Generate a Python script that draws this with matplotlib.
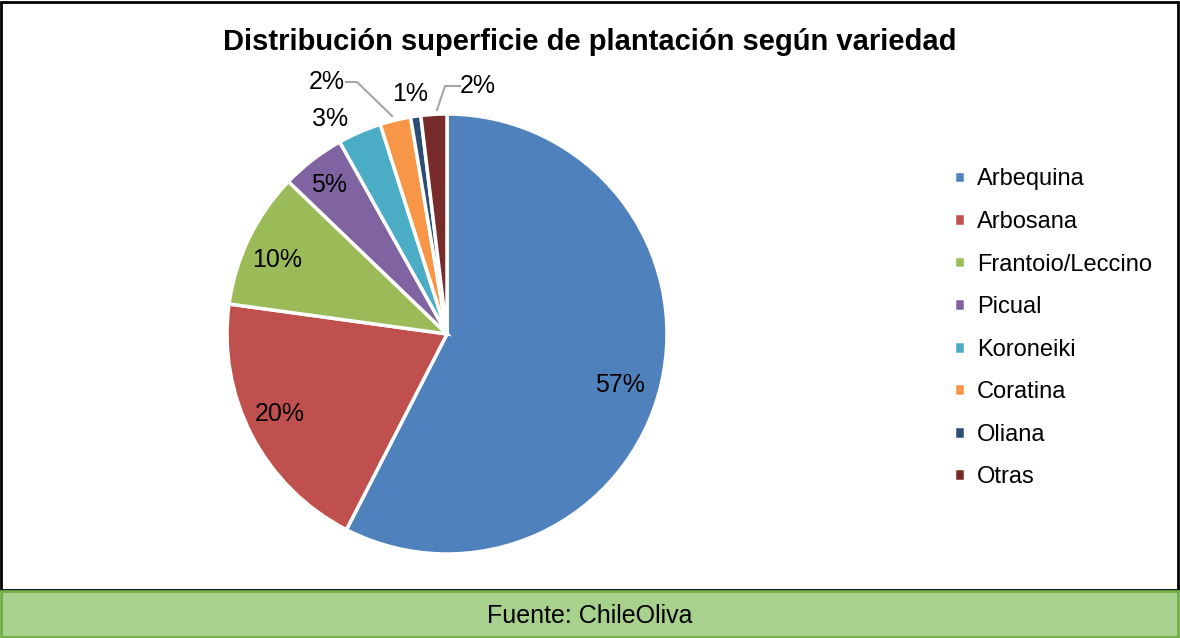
import matplotlib.pyplot as plt
from matplotlib.patches import Rectangle

plt.rcParams['font.family'] = ['Liberation Sans', 'DejaVu Sans']

varieties = ["Arbequina", "Arbosana", "Frantoio/Leccino", "Picual",
             "Koroneiki", "Coratina", "Oliana", "Otras"]
shares = [57.5, 19.6, 10.0, 4.7, 3.2, 2.25, 0.75, 1.9]
pct_labels = ["57%", "20%", "10%", "5%", "3%", "2%", "1%", "2%"]
colors = ["#4F81BD", "#C0504D", "#9BBB59", "#8064A2",
          "#4BACC6", "#F79646", "#2C4D75", "#772C2A"]

W, H = 1180, 638
fig = plt.figure(figsize=(W / 100, H / 100), dpi=100)

# outer frame
fig.patches.append(Rectangle((1 / W, 48 / H), 1 - 3 / W, 1 - 50 / H, transform=fig.transFigure,
                             facecolor="white", edgecolor="black", lw=2, zorder=-2))
# source box
fig.patches.append(Rectangle((1 / W, 1 / H), 1 - 3 / W, 46 / H, transform=fig.transFigure,
                             facecolor="#A9D18E", edgecolor="#70AD47", lw=2, zorder=-1))
fig.text(0.5, 22 / H, "Fuente: ChileOliva", ha="center", va="center", fontsize=18)

fig.text(0.5, 1 - 42 / H, "Distribución superficie de plantación según variedad",
         ha="center", va="center", fontsize=21, fontweight="bold")

cx, cy, r = 447, 334, 220
ax = fig.add_axes([(cx - r) / W, (H - cy - r) / H, 2 * r / W, 2 * r / H])
ax.set_zorder(2)
wedges, _ = ax.pie(shares, colors=colors, startangle=90, counterclock=False,
                   radius=1, wedgeprops=dict(edgecolor="white", linewidth=2.5))
ax.set_xlim(-1, 1)
ax.set_ylim(-1, 1)
ax.set_aspect("equal")
ax.axis("off")

# label positions in pixels (as placed in the reference)
label_px = [(620, 385), (280, 414), (277, 260), (329, 185),
            (330, 119), (327, 82), (410, 94), (478, 86)]
for (px, py), t in zip(label_px, pct_labels):
    ax.text((px - cx) / r, (cy - py) / r, t, ha="center", va="center", fontsize=18,
            clip_on=False)


def p(x, y):
    return ((x - cx) / r, (cy - y) / r)


# leader lines
for pts in [[(346, 82), (357, 82), (392, 116)], [(460, 86), (445, 86), (437, 110)]]:
    xs, ys = zip(*[p(*q) for q in pts])
    ax.plot(xs, ys, color="#A6A6A6", lw=1.5, clip_on=False)

leg = fig.legend(wedges, varieties, loc="upper left",
                 bbox_to_anchor=(945 / W, 1 - 159 / H), frameon=False, fontsize=17,
                 handlelength=0.45, handleheight=0.45, handletextpad=0.5,
                 labelspacing=0.87, borderaxespad=0)

fig.savefig("out.png", dpi=100)
